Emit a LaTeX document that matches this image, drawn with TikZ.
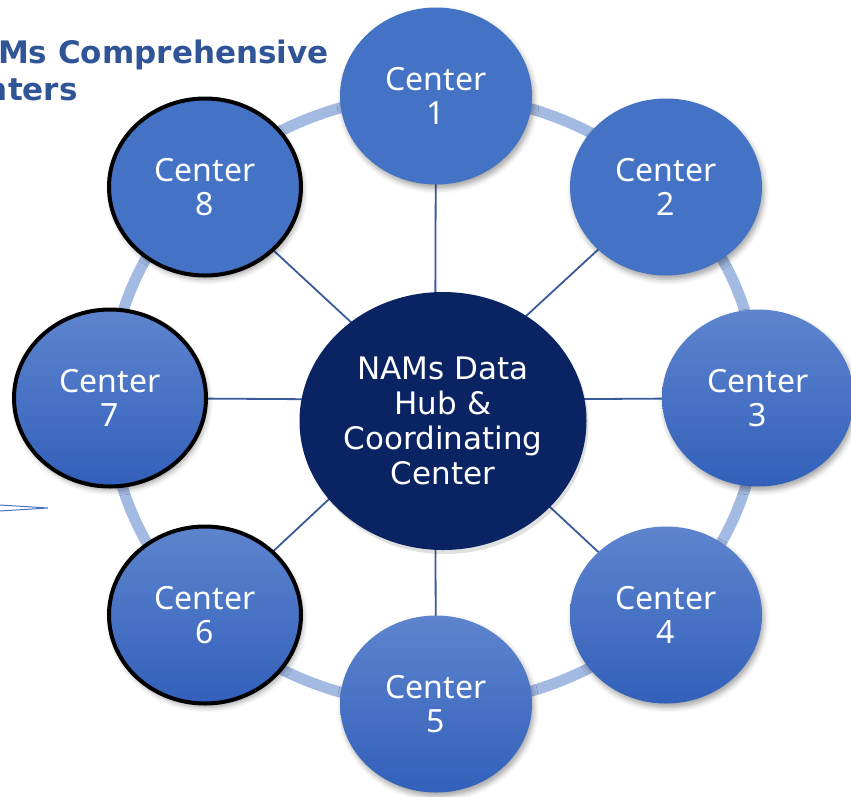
\documentclass[tikz,border=0pt]{standalone}
\usepackage{fontspec}
\usetikzlibrary{shapes.geometric,shadows.blur}
\newfontfamily\outerfont{Noto Sans}
\newfontfamily\hubfont{DejaVu Sans}
\definecolor{ctrblue}{RGB}{68,114,196}
\definecolor{ctrtop}{RGB}{94,132,206}
\definecolor{ctrbot}{RGB}{50,96,186}
\definecolor{hubblue}{RGB}{10,35,98}
\definecolor{ringblue}{RGB}{163,186,226}
\definecolor{linkblue}{RGB}{58,90,158}
\definecolor{titleblue}{RGB}{47,85,151}
\pgfdeclarelayer{background}
\pgfsetlayers{background,main}
\tikzset{
  ctr/.style={ellipse, minimum width=192pt, minimum height=177pt, inner sep=0pt,
    align=center, text=white, font=\outerfont\fontsize{32}{34}\selectfont,
    blur shadow={shadow xshift=2pt, shadow yshift=-4pt, shadow blur radius=5pt, shadow opacity=35}},
  flat/.style={fill=ctrblue},
  shade/.style={top color=ctrtop, bottom color=ctrbot},
  rim/.style={draw=black, line width=4pt},
  hub/.style={ellipse, minimum width=287pt, minimum height=258pt, inner sep=0pt,
    align=center, text=white, fill=hubblue, font=\hubfont\fontsize{31}{35}\selectfont},
  hubshadow/.style={ellipse, minimum width=287pt, minimum height=258pt, inner sep=0pt,
    fill=black, opacity=0.12},
  link/.style={draw=linkblue, line width=1.8pt},
  ring/.style={draw=ringblue, line width=11pt},
  title/.style={anchor=base west, inner sep=0pt, text=titleblue,
    font=\hubfont\bfseries\fontsize{31}{36}\selectfont}
}
\begin{document}
\begin{tikzpicture}[x=1pt,y=-1pt]
\useasboundingbox (0,0) rectangle (851,796);

\node[title] (t1) at (-52,63) {NAMs Comprehensive};
\node[title] (t2) at (-58,100) {Centers};

\coordinate (core) at (435,400);

\node[hubshadow] (hubsh) at (445,425) {};
\node[hub] (hub) at (443,421) {NAMs Data\\Hub \&\\Coordinating\\Center};

\node[ctr,flat] (c1) at (436,96) {Center\\1};
\node[ctr,flat] (c2) at (666,187) {Center\\2};
\node[ctr,shade] (c3) at (758,398) {Center\\3};
\node[ctr,shade] (c4) at (666,615) {Center\\4};
\node[ctr,shade] (c5) at (436,704) {Center\\5};
\node[ctr,shade,rim] (c6) at (205,615) {Center\\6};
\node[ctr,shade,rim] (c7) at (110,398) {Center\\7};
\node[ctr,flat,rim] (c8) at (205,187) {Center\\8};

\begin{pgfonlayer}{background}
  \draw[ring] (434,400) ellipse [x radius=325pt, y radius=305pt];
  \foreach \c in {c1,c2,c3,c4,c5,c6,c7,c8}
    \draw[link] (core) -- (\c.center);
\end{pgfonlayer}

\coordinate (w1) at (0,505);
\coordinate (w2) at (48,508);
\coordinate (w3) at (0,511);
\draw[ctrblue, line width=1pt] (w1) -- (w2) -- (w3);
\end{tikzpicture}
\end{document}
